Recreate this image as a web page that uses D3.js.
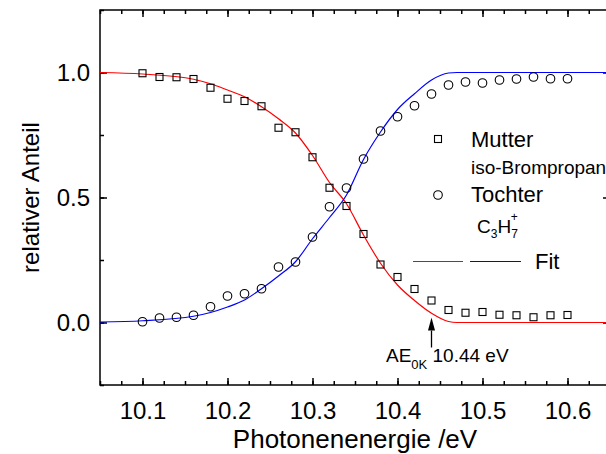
<!DOCTYPE html>
<html>
<head>
<meta charset="utf-8">
<script src="https://cdn.jsdelivr.net/npm/d3@7"></script>
<style>
  body { margin: 0; background: #fff; }
  svg { font-family: "Liberation Sans", Arial, sans-serif; }
</style>
</head>
<body>
<div id="chart"></div>
<script>
// measured points (photon energy in eV)
const energy = [10.10, 10.12, 10.14, 10.16, 10.18, 10.20, 10.22, 10.24, 10.26, 10.28,
  10.30, 10.32, 10.34, 10.36, 10.38, 10.40, 10.42, 10.44, 10.46, 10.48,
  10.50, 10.52, 10.54, 10.56, 10.58, 10.60];
const mutter = [0.997, 0.982, 0.981, 0.974, 0.939, 0.895, 0.886, 0.865, 0.779, 0.761,
  0.661, 0.539, 0.466, 0.354, 0.232, 0.182, 0.134, 0.088, 0.05, 0.039,
  0.042, 0.031, 0.029, 0.021, 0.029, 0.03];
const tochter = [0.003, 0.018, 0.021, 0.029, 0.063, 0.106, 0.115, 0.135, 0.222, 0.242,
  0.342, 0.463, 0.538, 0.654, 0.766, 0.823, 0.867, 0.914, 0.95, 0.962,
  0.958, 0.97, 0.974, 0.982, 0.975, 0.975];

// fit curves
const fitEnergy = [10.05, 10.10, 10.16, 10.18, 10.20, 10.22, 10.24, 10.26, 10.28, 10.30,
  10.32, 10.34, 10.36, 10.38, 10.40, 10.42, 10.44, 10.46, 10.47, 10.65];
const fitMutter = [1.0, 0.994, 0.973, 0.955, 0.93, 0.903, 0.863, 0.815, 0.758, 0.668,
  0.56, 0.475, 0.35, 0.237, 0.15, 0.088, 0.037, 0.004, 0, 0];
const fitTochter = [0.002, 0.007, 0.025, 0.04, 0.062, 0.09, 0.135, 0.186, 0.243, 0.335,
  0.42, 0.51, 0.652, 0.762, 0.852, 0.915, 0.97, 0.998, 1.0, 1.0];

const xTicks = [10.1, 10.2, 10.3, 10.4, 10.5, 10.6];
const yTicks = [0, 0.5, 1.0];

const W = 606, H = 454;
const margin = { top: 10, right: -4, bottom: 69, left: 100 };
const width = W - margin.left - margin.right;
const height = H - margin.top - margin.bottom;

const x = d3.scaleLinear().domain([10.05, 10.65]).range([0, width]);
const y = d3.scaleLinear().domain([-0.25, 1.25]).range([height, 0]);

const svg = d3.select("#chart").append("svg")
  .attr("width", W).attr("height", H);

const g = svg.append("g")
  .attr("transform", `translate(${margin.left},${margin.top})`);

const xMinor = d3.range(10.05, 10.651, 0.025);
const yMinor = d3.range(-0.25, 1.251, 0.25);

function axisStyle(sel) {
  sel.select(".domain").remove();
  sel.selectAll("line").attr("stroke", "#000").attr("stroke-width", 1.5);
  sel.selectAll("text").attr("font-size", 24).attr("fill", "#000");
}

// bottom axis, ticks inward
g.append("g").attr("transform", `translate(0,${height})`)
  .call(d3.axisBottom(x).tickValues(xMinor).tickSize(-4).tickFormat(""))
  .call(axisStyle);
g.append("g").attr("transform", `translate(0,${height})`)
  .call(d3.axisBottom(x).tickValues(xTicks).tickSize(-7).tickPadding(17)
    .tickFormat(d3.format(".1f")))
  .call(axisStyle);
// top axis
g.append("g")
  .call(d3.axisTop(x).tickValues(xMinor).tickSize(-4).tickFormat(""))
  .call(axisStyle);
g.append("g")
  .call(d3.axisTop(x).tickValues(xTicks).tickSize(-7).tickFormat(""))
  .call(axisStyle);
// left axis
g.append("g")
  .call(d3.axisLeft(y).tickValues(yMinor).tickSize(-4).tickFormat(""))
  .call(axisStyle);
g.append("g")
  .call(d3.axisLeft(y).tickValues(yTicks).tickSize(-7).tickPadding(10)
    .tickFormat(d3.format(".1f")))
  .call(axisStyle);
// right axis
g.append("g").attr("transform", `translate(${width},0)`)
  .call(d3.axisRight(y).tickValues(yMinor).tickSize(-4).tickFormat(""))
  .call(axisStyle);
g.append("g").attr("transform", `translate(${width},0)`)
  .call(d3.axisRight(y).tickValues(yTicks).tickSize(-7).tickFormat(""))
  .call(axisStyle);

g.append("rect")
  .attr("width", width).attr("height", height)
  .attr("fill", "none").attr("stroke", "#000").attr("stroke-width", 1.5);

// fit lines
const line = d3.line().curve(d3.curveMonotoneX)
  .x((d) => x(d[0])).y((d) => y(d[1]));

g.append("path")
  .datum(d3.zip(fitEnergy, fitMutter))
  .attr("d", line).attr("fill", "none")
  .attr("stroke", "#ff0000").attr("stroke-width", 1.2);
g.append("path")
  .datum(d3.zip(fitEnergy, fitTochter))
  .attr("d", line).attr("fill", "none")
  .attr("stroke", "#0000ff").attr("stroke-width", 1.2);

// data markers
const sq = 7;
g.append("g").selectAll("rect")
  .data(d3.zip(energy, mutter))
  .join("rect")
  .attr("x", (d) => x(d[0]) - sq / 2)
  .attr("y", (d) => y(d[1]) - sq / 2)
  .attr("width", sq).attr("height", sq)
  .attr("fill", "none").attr("stroke", "#000").attr("stroke-width", 1.1);

g.append("g").selectAll("circle")
  .data(d3.zip(energy, tochter))
  .join("circle")
  .attr("cx", (d) => x(d[0]))
  .attr("cy", (d) => y(d[1]))
  .attr("r", 4.3)
  .attr("fill", "none").attr("stroke", "#000").attr("stroke-width", 1.1);

// legend
const legend = svg.append("g");
legend.append("rect")
  .attr("x", 434.5).attr("y", 135.5).attr("width", sq).attr("height", sq)
  .attr("fill", "none").attr("stroke", "#000").attr("stroke-width", 1.1);
legend.append("text").attr("x", 471).attr("y", 147)
  .attr("font-size", 22).text("Mutter");
legend.append("text").attr("x", 471).attr("y", 174)
  .attr("font-size", 19).text("iso-Brompropan");
legend.append("circle")
  .attr("cx", 438).attr("cy", 195).attr("r", 4.3)
  .attr("fill", "none").attr("stroke", "#000").attr("stroke-width", 1.1);
legend.append("text").attr("x", 471).attr("y", 202)
  .attr("font-size", 22).text("Tochter");

const formula = legend.append("text").attr("x", 477).attr("y", 233).attr("font-size", 19);
formula.append("tspan").text("C");
formula.append("tspan").attr("font-size", 12).attr("dy", 5).text("3");
formula.append("tspan").attr("dy", -5).text("H");
formula.append("tspan").attr("font-size", 12).attr("dy", 5).text("7");
formula.append("tspan").attr("font-size", 12).attr("dx", -7).attr("dy", -17).text("+");

legend.append("line").attr("x1", 413).attr("x2", 463).attr("y1", 261.5).attr("y2", 261.5)
  .attr("stroke", "#ff0000").attr("stroke-width", 1.2);
legend.append("line").attr("x1", 470).attr("x2", 521).attr("y1", 261.5).attr("y2", 261.5)
  .attr("stroke", "#0000ff").attr("stroke-width", 1.2);
legend.append("text").attr("x", 535).attr("y", 269)
  .attr("font-size", 22).text("Fit");

// AE annotation
const ae = 10.44;
const ax = margin.left + x(ae);
svg.append("line")
  .attr("x1", ax).attr("x2", ax)
  .attr("y1", margin.top + y(0) + 8).attr("y2", margin.top + y(0) + 25)
  .attr("stroke", "#000").attr("stroke-width", 1.3);
svg.append("path")
  .attr("d", `M${ax},${margin.top + y(0) - 5}l-3.5,13h7z`)
  .attr("fill", "#000");
const aeText = svg.append("text").attr("x", 386).attr("y", 362).attr("font-size", 19);
aeText.append("tspan").text("AE");
aeText.append("tspan").attr("font-size", 13).attr("dy", 7).text("0K");
aeText.append("tspan").attr("dy", -7).text(" 10.44 eV");

// axis titles
svg.append("text")
  .attr("x", margin.left + width / 2).attr("y", 448)
  .attr("text-anchor", "middle").attr("font-size", 26)
  .text("Photonenenergie /eV");
svg.append("text")
  .attr("transform", `translate(39,${margin.top + height / 2}) rotate(-90)`)
  .attr("text-anchor", "middle").attr("font-size", 24)
  .text("relativer Anteil");
</script>
</body>
</html>
